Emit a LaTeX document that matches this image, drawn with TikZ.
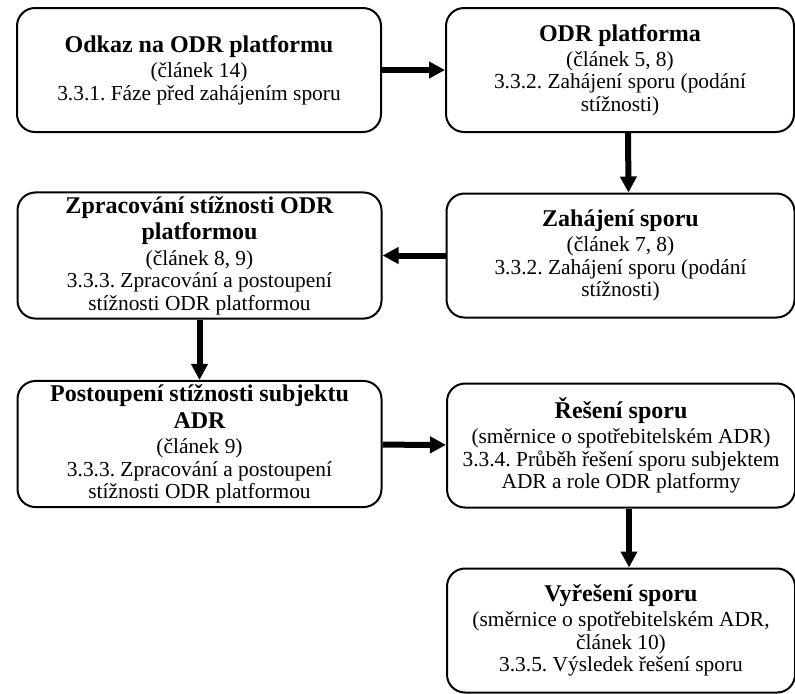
\documentclass[tikz,border=0pt]{standalone}
\usepackage{fontspec}
\setmainfont{Liberation Serif}
\usetikzlibrary{arrows.meta}
\frenchspacing
\newcommand{\boxtitle}[1]{{\fontsize{12}{13}\selectfont\bfseries #1}}
\begin{document}
\begin{tikzpicture}[x=0.5pt,y=-0.5pt,
  box/.style={draw,line width=1pt,rounded corners=9pt,align=center,inner sep=2pt,
    minimum height=62pt,font=\fontsize{10.7}{11.2}\selectfont},
  leftbox/.style={box,minimum width=182pt},
  rightbox/.style={box,minimum width=174pt},
  flow/.style={line width=3pt,-{Triangle[length=8pt,width=8pt]}}]
  \useasboundingbox (0,0) rectangle (795,693);
  \clip (0,0) rectangle (795,693);
  \node[leftbox] (odkaz) at (199,70)
    {\boxtitle{Odkaz na ODR platformu}\\[1.5pt](článek 14)\\3.3.1. Fáze před zahájením sporu};
  \node[rightbox] (platforma) at (620,70)
    {\boxtitle{ODR platforma}\\[1.5pt](článek 5, 8)\\3.3.2. Zahájení sporu (podání\\stížnosti)};
  \node[rightbox] (zahajeni) at (620.5,255.5)
    {\boxtitle{Zahájení sporu}\\[1.5pt](článek 7, 8)\\3.3.2. Zahájení sporu (podání\\stížnosti)};
  \node[leftbox] (zpracovani) at (199.5,255.5)
    {\boxtitle{Zpracování stížnosti ODR}\\[2pt]\boxtitle{platformou}\\[1.5pt](článek 8, 9)\\3.3.3. Zpracování a postoupení\\stížnosti ODR platformou};
  \node[leftbox] (postoupeni) at (199.5,444)
    {\boxtitle{Postoupení stížnosti subjektu}\\[2pt]\boxtitle{ADR}\\[1.5pt](článek 9)\\3.3.3. Zpracování a postoupení\\stížnosti ODR platformou};
  \node[rightbox] (reseni) at (621,445.5)
    {\boxtitle{Řešení sporu}\\[1.5pt](směrnice o spotřebitelském ADR)\\3.3.4. Průběh řešení sporu subjektem\\ADR a role ODR platformy};
  \node[rightbox] (vyreseni) at (621,630.5)
    {\boxtitle{Vyřešení sporu}\\[1.5pt](směrnice o spotřebitelském ADR,\\článek 10)\\3.3.5. Výsledek řešení sporu};
  \draw[flow] (odkaz) -- (platforma);
  \draw[flow] ([xshift=4pt]platforma.south) -- ([xshift=4pt]zahajeni.north);
  \draw[flow] (zahajeni) -- (zpracovani);
  \draw[flow] (zpracovani) -- (postoupeni);
  \draw[flow] (postoupeni) -- (reseni);
  \draw[flow] ([xshift=4pt]reseni.south) -- ([xshift=4pt]vyreseni.north);
\end{tikzpicture}
\end{document}
